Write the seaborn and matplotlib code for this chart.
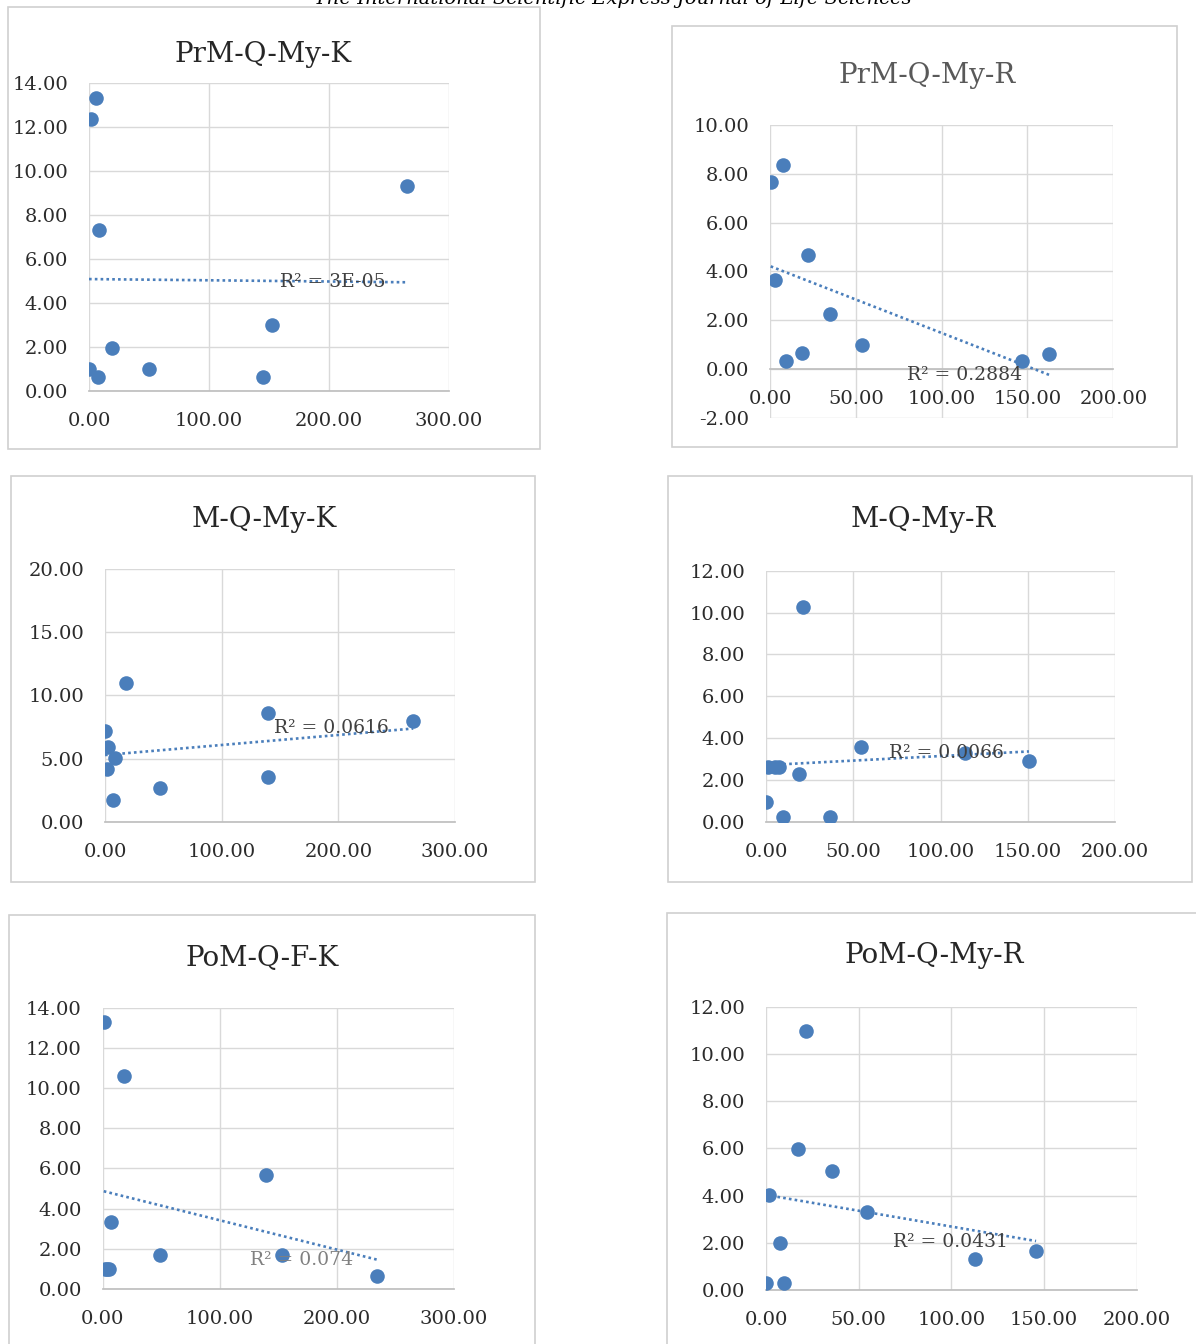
import numpy as np
import matplotlib
matplotlib.use("Agg")
import matplotlib.pyplot as plt
from matplotlib.patches import Rectangle
import seaborn as sns

sns.set_theme(style="white")
plt.rcParams["font.family"] = ["DejaVu Serif", "DejaVu Sans"]

W, H = 1196, 1344

# values
prm_k_x = [5.6, 1.7, 265.0, 8.3, 152.8, 18.9, 0.0, 50.0, 7.2, 144.7]
prm_k_y = [13.3, 12.35, 9.3, 7.3, 2.97, 1.95, 1.0, 0.99, 0.6, 0.62]

prm_r_x = [0.4, 7.8, 22.3, 2.7, 35.2, 53.4, 18.6, 9.5, 146.9, 162.8]
prm_r_y = [7.68, 8.37, 4.67, 3.66, 2.26, 0.98, 0.66, 0.32, 0.32, 0.63]

m_k_x = [18.0, 0.0, 139.4, 264.2, 2.9, 8.6, 1.4, 139.4, 47.1, 7.1]
m_k_y = [11.0, 7.18, 8.58, 7.97, 5.94, 5.02, 4.15, 3.56, 2.64, 1.72]

m_r_x = [21.4, 54.4, 114.0, 150.7, 1.3, 5.2, 7.6, 18.9, 0.0, 9.9, 36.8]
m_r_y = [10.28, 3.56, 3.27, 2.9, 2.63, 2.63, 2.63, 2.26, 0.93, 0.24, 0.24]

pom_k_x = [0.9, 18.2, 139.5, 7.1, 48.9, 152.8, 2.0, 5.4, 234.2, 3.5]
pom_k_y = [13.3, 10.6, 5.66, 3.33, 1.68, 1.68, 0.98, 0.98, 0.66, 0.98]

pom_r_x = [21.6, 17.4, 35.8, 1.8, 54.5, 7.6, 145.7, 112.8, 0.0, 9.9]
pom_r_y = [10.95, 5.96, 5.04, 4.03, 3.32, 2.0, 1.65, 1.31, 0.28, 0.28]

titles = ["PrM-Q-My-K", "PrM-Q-My-R", "M-Q-My-K", "M-Q-My-R", "PoM-Q-F-K", "PoM-Q-My-R"]
r2_labels = ["R² = 3E-05", "R² = 0.2884", "R² = 0.0616", "R² = 0.0066", "R² = 0.074", "R² = 0.0431"]

blue = "#4a7ebb"
grid_c = "#d9d9d9"
txt_c = "#2b2b2b"

fig = plt.figure(figsize=(W / 100, H / 100), dpi=100)
fig.patch.set_facecolor("white")

# header of the journal page, cut off at the top
fig.text(0.512, 1 - 4 / H, "The International Scientific Express Journal of Life Sciences",
         ha="center", va="baseline", fontsize=14, style="italic", color="black")

# chart-area frames (pixels: left, top, right, bottom)
frames = [(8, 7, 540, 449), (672, 26, 1177, 447), (11, 476, 535, 882),
          (668, 476, 1192, 882), (9, 915, 535, 1350), (667, 913, 1200, 1350)]
for l, t, r, b in frames:
    fig.add_artist(Rectangle((l / W, 1 - b / H), (r - l) / W, (b - t) / H,
                             transform=fig.transFigure, fill=False,
                             edgecolor="#d0d0d0", linewidth=1.2))

panels = [
    # x, y, plot box px (x0, y0, x1, y1), xmax, ymin, ymax, xstep, ystep, label pos, title pos
    (prm_k_x, prm_k_y, (89, 82.7, 449, 390.7), 300, 0, 14, 100, 2, (203, 4.95), (263, 61.7)),
    (prm_r_x, prm_r_y, (770, 125, 1113.3, 417.7), 200, -2, 10, 50, 2, (113.6, -0.23), (927, 83.3)),
    (m_k_x, m_k_y, (105, 569, 455, 821.7), 300, 0, 20, 100, 5, (194, 7.4), (264, 527.3)),
    (m_r_x, m_r_y, (766, 570.7, 1115, 821.7), 200, 0, 12, 50, 2, (103.5, 3.3), (923, 527.3)),
    (pom_k_x, pom_k_y, (102.7, 1007.7, 454, 1289), 300, 0, 14, 100, 2, (170, 1.44), (262, 966)),
    (pom_r_x, pom_r_y, (766, 1006.7, 1136.7, 1290), 200, 0, 12, 50, 2, (99.3, 2.05), (934, 963.3)),
]

for i, (xs, ys, box, xmax, ymin, ymax, xstep, ystep, lab, tpos) in enumerate(panels):
    x0, y0, x1, y1 = box
    ax = fig.add_axes([x0 / W, 1 - y1 / H, (x1 - x0) / W, (y1 - y0) / H])
    sns.scatterplot(x=xs, y=ys, ax=ax, color=blue, s=110, linewidth=0, zorder=3)
    sns.regplot(x=np.array(xs), y=np.array(ys), ax=ax, scatter=False, ci=None, truncate=True,
                line_kws=dict(color=blue, lw=1.9, ls=(0, (1, 1.2)), zorder=4))
    ax.set_xlim(0, xmax)
    ax.set_ylim(ymin, ymax)
    ax.set_xticks(np.arange(0, xmax + 1, xstep))
    ax.set_yticks(np.arange(ymin, ymax + 0.1, ystep))
    ax.xaxis.set_major_formatter(matplotlib.ticker.FormatStrFormatter("%.2f"))
    ax.yaxis.set_major_formatter(matplotlib.ticker.FormatStrFormatter("%.2f"))
    ax.set_xlabel("")
    ax.set_ylabel("")
    ax.grid(True, color=grid_c, linewidth=1)
    ax.set_axisbelow(True)
    for s in ["top", "right", "left"]:
        ax.spines[s].set_visible(False)
    ax.spines["bottom"].set_color("#bfbfbf")
    if ymin < 0:
        ax.spines["bottom"].set_position(("data", 0))
    ax.tick_params(length=0, pad=15, labelsize=14, labelcolor=txt_c)
    ax.set_facecolor("white")

    lab_c = "#808080" if i == 4 else "#404040"
    ax.text(lab[0], lab[1], r2_labels[i], ha="center", va="center",
            fontsize=13.5, color=lab_c, zorder=5)

    t_c = "#595959" if i == 1 else "#262626"
    fig.text(tpos[0] / W, 1 - tpos[1] / H, titles[i], ha="center", va="baseline",
             fontsize=20, color=t_c)

fig.savefig("out.png", dpi=100, facecolor="white")
